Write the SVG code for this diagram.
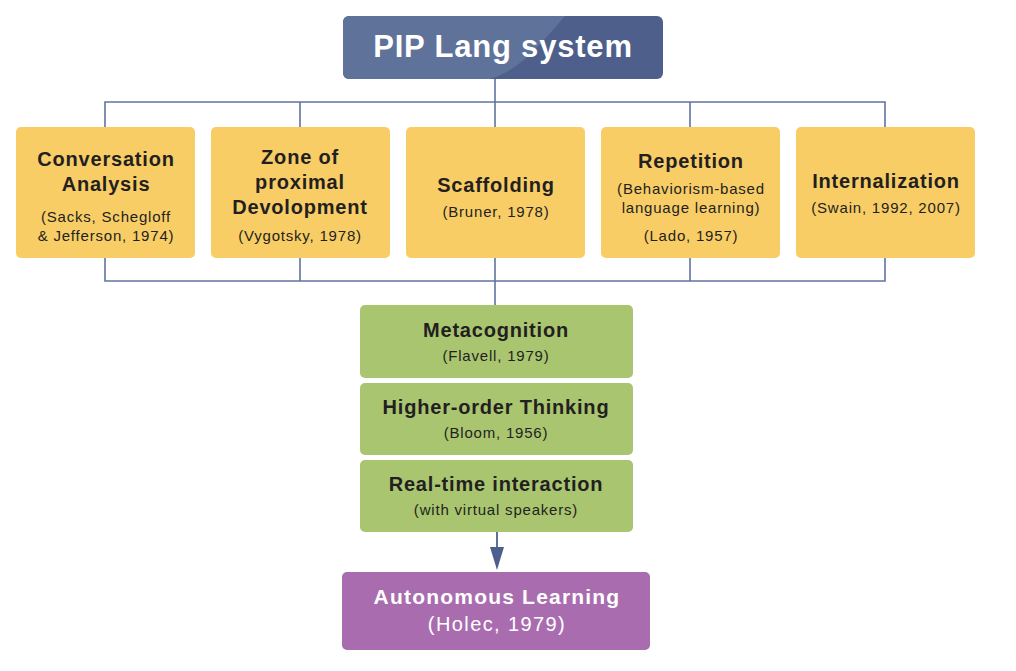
<svg xmlns="http://www.w3.org/2000/svg" width="1016" height="671" viewBox="0 0 1016 671">
<style>
.ln{fill:none;stroke:#6073a0;stroke-width:1.6}
.y{fill:#f8cd66}
.g{fill:#a9c56f}
.h{font-family:"Liberation Sans",Arial,sans-serif;font-weight:bold;font-size:20px;letter-spacing:0.8px;fill:#231f20;text-anchor:middle}
.s{font-family:"Liberation Sans",Arial,sans-serif;font-size:15px;letter-spacing:0.8px;fill:#231f20;text-anchor:middle}
</style>
<defs>
<clipPath id="tc"><rect x="343" y="16" width="320" height="63" rx="6"/></clipPath>
</defs>
<rect width="1016" height="671" fill="#ffffff"/>
<g id="connectors">
<path class="ln" d="M495,79V102M105,127V102H885V127M300,102V127M690,102V127M495,102V127"/>
<path class="ln" d="M105,258V281H885V258M300,258V281M690,258V281M495,258V305"/>
<line x1="497" y1="532" x2="497" y2="549" stroke="#4c5f8d" stroke-width="1.8"/>
<polygon points="490,547 504,547 497,570" fill="#4c5f8d"/>
</g>
<g id="title">
<g clip-path="url(#tc)">
<rect x="343" y="16" width="320" height="63" fill="#4d5f8a"/>
<path d="M343,16H565C540,45 520,70 490,79H343Z" fill="#5f7299"/>
</g>
<text x="503" y="57" font-family="Liberation Sans,Arial,sans-serif" font-weight="bold" font-size="31" letter-spacing="0.8" fill="#ffffff" text-anchor="middle">PIP Lang system</text>
</g>
<g id="n1">
<rect class="y" x="16" y="127" width="179" height="131" rx="5"/>
<text class="h" x="106" y="166">Conversation</text>
<text class="h" x="106" y="191">Analysis</text>
<text class="s" x="106" y="222">(Sacks, Schegloff</text>
<text class="s" x="106" y="241">&amp; Jefferson, 1974)</text>
</g>
<g id="n2">
<rect class="y" x="211" y="127" width="179" height="131" rx="5"/>
<text class="h" x="300" y="164">Zone of</text>
<text class="h" x="300" y="189">proximal</text>
<text class="h" x="300" y="214">Devolopment</text>
<text class="s" x="300" y="241">(Vygotsky, 1978)</text>
</g>
<g id="n3">
<rect class="y" x="406" y="127" width="179" height="131" rx="5"/>
<text class="h" x="496" y="192">Scaffolding</text>
<text class="s" x="496" y="217">(Bruner, 1978)</text>
</g>
<g id="n4">
<rect class="y" x="601" y="127" width="179" height="131" rx="5"/>
<text class="h" x="691" y="168">Repetition</text>
<text class="s" x="691" y="194">(Behaviorism-based</text>
<text class="s" x="691" y="213">language learning)</text>
<text class="s" x="691" y="241">(Lado, 1957)</text>
</g>
<g id="n5">
<rect class="y" x="796" y="127" width="179" height="131" rx="5"/>
<text class="h" x="886" y="188">Internalization</text>
<text class="s" x="886" y="213">(Swain, 1992, 2007)</text>
</g>
<g id="g1">
<rect class="g" x="360" y="305" width="273" height="73" rx="5"/>
<text class="h" x="496" y="337">Metacognition</text>
<text class="s" x="496" y="361">(Flavell, 1979)</text>
</g>
<g id="g2">
<rect class="g" x="360" y="383" width="273" height="72" rx="5"/>
<text class="h" x="496" y="414">Higher-order Thinking</text>
<text class="s" x="496" y="438">(Bloom, 1956)</text>
</g>
<g id="g3">
<rect class="g" x="360" y="460" width="273" height="72" rx="5"/>
<text class="h" x="496" y="491">Real-time interaction</text>
<text class="s" x="496" y="515">(with virtual speakers)</text>
</g>
<g id="auto">
<rect x="342" y="572" width="308" height="78" rx="5" fill="#a96daf"/>
<text x="497" y="604" font-family="Liberation Sans,Arial,sans-serif" font-weight="bold" font-size="21" letter-spacing="1.2" fill="#ffffff" text-anchor="middle">Autonomous Learning</text>
<text x="497" y="631" font-family="Liberation Sans,Arial,sans-serif" font-size="20" letter-spacing="1.4" fill="#ffffff" text-anchor="middle">(Holec, 1979)</text>
</g>
</svg>
